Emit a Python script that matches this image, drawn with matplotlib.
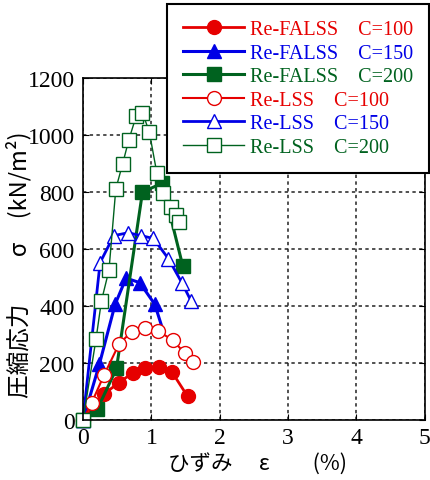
import numpy as np
import matplotlib
matplotlib.use("Agg")
from matplotlib import pyplot as plt

# strain (%) / stress (kN/m2)
fa100_x = [0, 0.31, 0.52, 0.73, 0.91, 1.11, 1.30, 1.53]
fa100_y = [0, 92, 130, 166, 181, 186, 169, 83]

fa150_x = [0, 0.24, 0.47, 0.63, 0.83, 1.05, 1.15]
fa150_y = [0, 196, 406, 498, 482, 406, 330]

fa200_x = [0, 0.21, 0.49, 0.87, 1.16, 1.46]
fa200_y = [0, 38, 181, 800, 831, 540]

ls100_x = [0, 0.126, 0.31, 0.53, 0.71, 0.90, 1.09, 1.31, 1.49, 1.61]
ls100_y = [0, 60, 159, 268, 309, 322, 313, 281, 234, 204]

ls150_x = [0, 0.25, 0.45, 0.66, 0.85, 1.03, 1.25, 1.45, 1.58]
ls150_y = [0, 552, 647, 657, 647, 637, 566, 480, 418]

ls200_x = [0, 0.19, 0.27, 0.38, 0.48, 0.58, 0.67, 0.78, 0.87, 0.97, 1.08, 1.17, 1.28, 1.36, 1.40]
ls200_y = [0, 283, 418, 526, 811, 899, 983, 1068, 1078, 1011, 867, 796, 746, 719, 694]

labels = ["Re-FALSS    C=100", "Re-FALSS    C=150", "Re-FALSS    C=200",
          "Re-LSS    C=100", "Re-LSS    C=150", "Re-LSS    C=200"]

red = "#e60000"
blue = "#0000e6"
green = "#00621f"

fig = plt.figure(figsize=(4.30, 4.81), dpi=100)
ax = fig.add_axes([0.193, 0.1247, 0.795, 0.711])

ms = 10
ax.plot(fa100_x, fa100_y, color=red, lw=2, marker="o", ms=ms, mfc=red, mec=red, clip_on=False, label=labels[0])
ax.plot(fa150_x, fa150_y, color=blue, lw=2.2, marker="^", ms=ms, mfc=blue, mec=blue, clip_on=False,
        markevery=list(range(len(fa150_x) - 1)), label=labels[1])
ax.plot(fa200_x, fa200_y, color=green, lw=2.2, marker="s", ms=ms, mfc=green, mec=green, clip_on=False, label=labels[2])
ax.plot(ls100_x, ls100_y, color=red, lw=1.5, marker="o", ms=ms, mfc="white", mec=red, mew=1, clip_on=False, label=labels[3])
ax.plot(ls150_x, ls150_y, color=blue, lw=2, marker="^", ms=ms, mfc="white", mec=blue, mew=1, clip_on=False, label=labels[4])
ax.plot(ls200_x, ls200_y, color=green, lw=1, marker="s", ms=ms, mfc="white", mec=green, mew=1, clip_on=False, label=labels[5])

ax.set_xlim(0, 5)
ax.set_ylim(0, 1200)
ax.set_xticks(np.arange(0, 6, 1))
ax.set_yticks(np.arange(0, 1201, 200))
ax.grid(True, color="#222222", lw=1.1, ls=(0, (2.2, 2.2)))
ax.set_axisbelow(True)
ax.tick_params(direction="in", length=4, top=True, right=True, labelsize=17)
ax.tick_params(axis="y", pad=6)
ax.tick_params(axis="x", pad=5)
for lab in ax.get_xticklabels() + ax.get_yticklabels():
    lab.set_family("Liberation Serif")
for sp in ax.spines.values():
    sp.set_linewidth(1.2)

jp = ["Noto Sans CJK JP", "DejaVu Sans"]
ax.set_xlabel("ひずみ　 ε　　(%)", family=jp, fontsize=15.5)
ax.set_ylabel("圧縮応力　　σ　(kN/m²)", family=jp, fontsize=17)
ax.xaxis.set_label_coords(0.51, -0.095)
ax.yaxis.set_label_coords(-0.15, 0.456)

leg = fig.legend(loc="upper right", bbox_to_anchor=(0.9977, 0.9896), bbox_transform=fig.transFigure,
                 prop={"family": "Liberation Serif", "size": 14.5}, handlelength=3.0, handletextpad=0.3,
                 labelspacing=0.22, fancybox=False, framealpha=1, borderpad=0.8, borderaxespad=0)
leg.get_frame().set_edgecolor("black")
leg.get_frame().set_linewidth(1.5)
for txt, col in zip(leg.get_texts(), [red, blue, green, red, blue, green]):
    txt.set_color(col)

fig.savefig("out.png", dpi=100)
